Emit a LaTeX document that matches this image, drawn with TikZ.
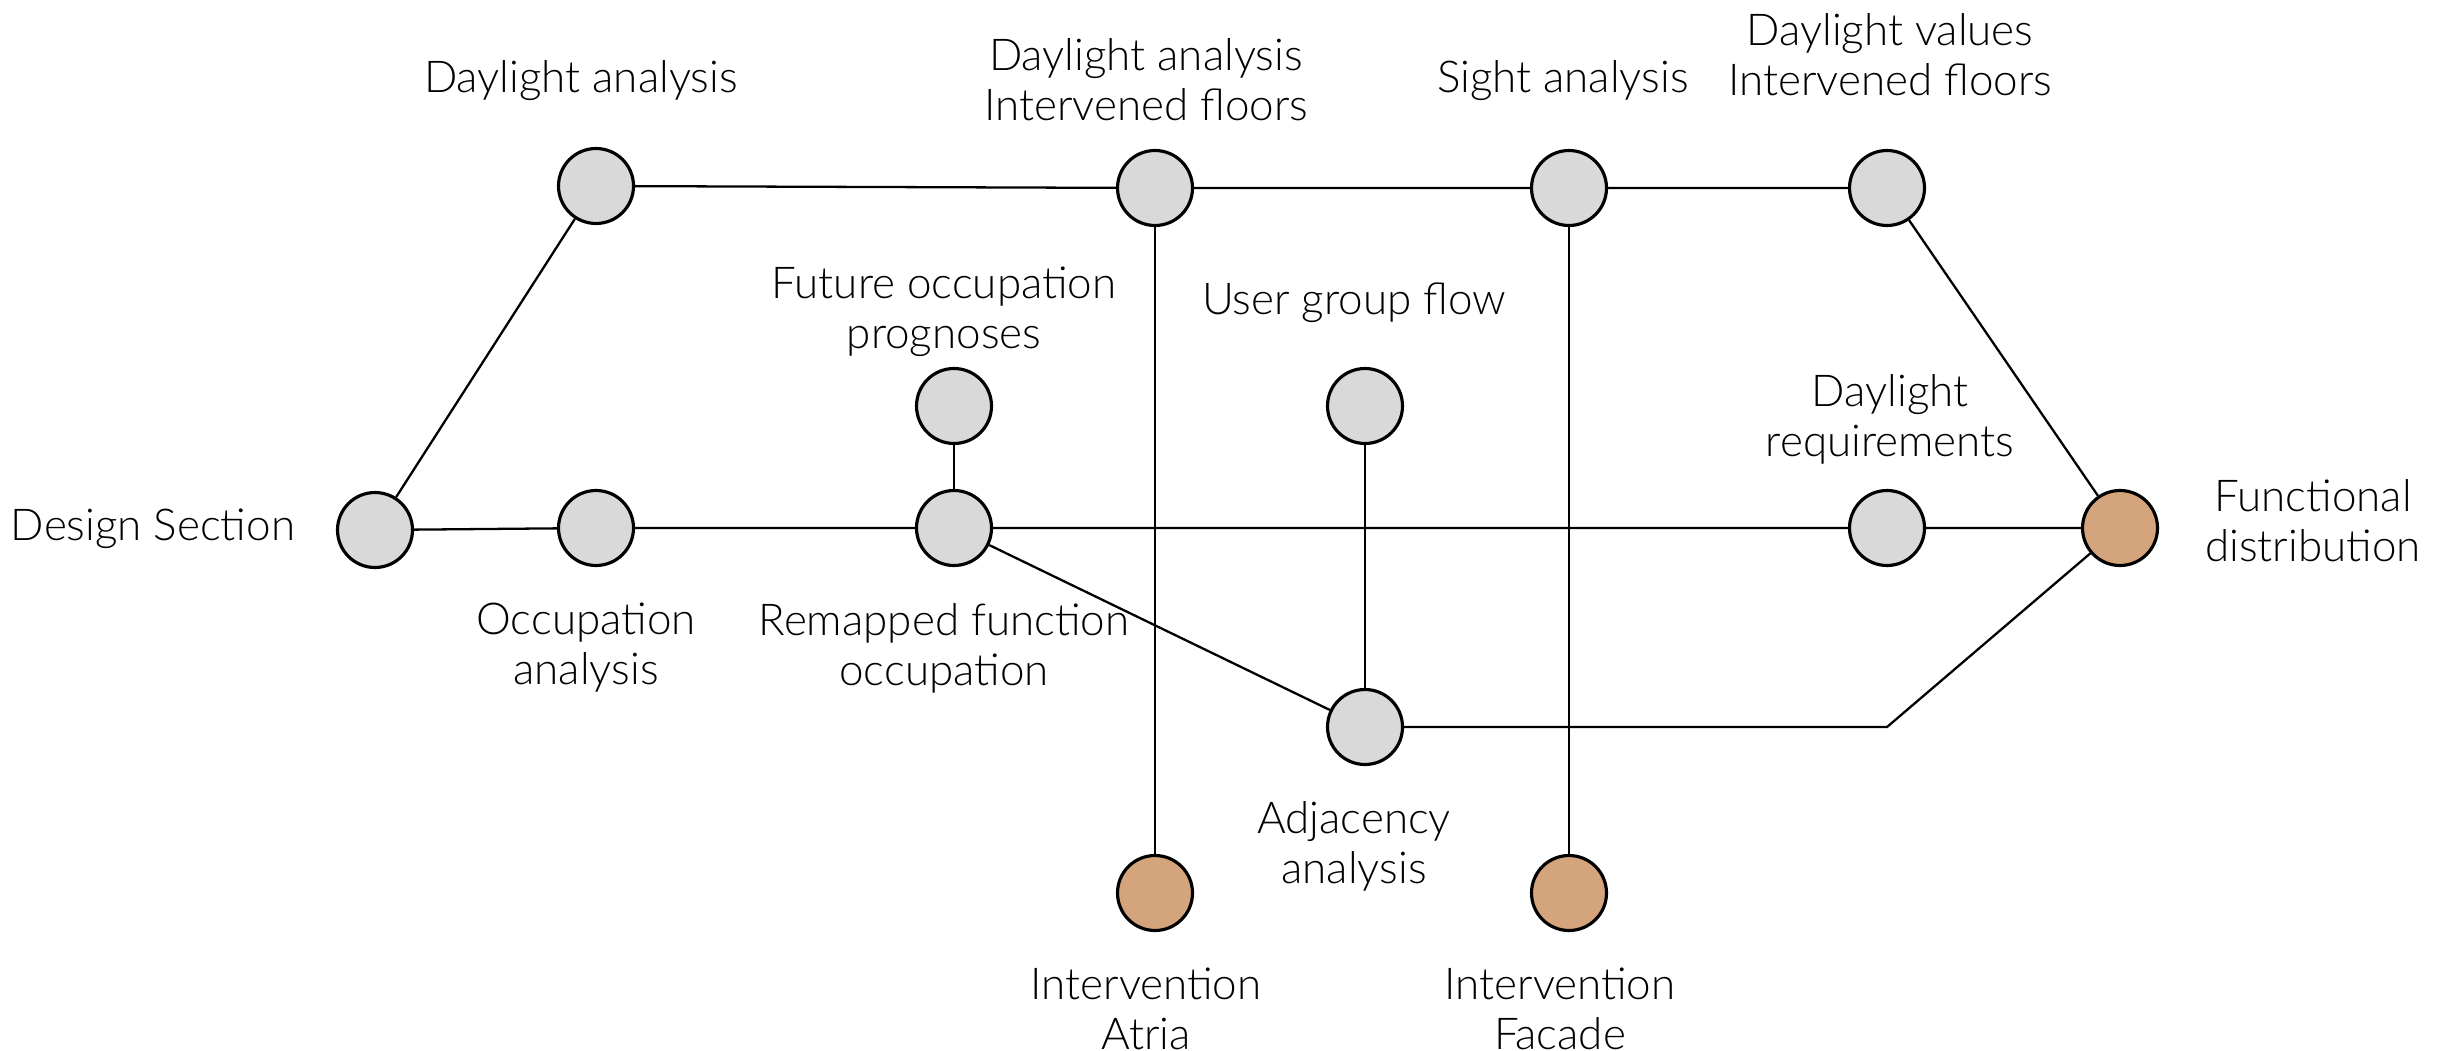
\documentclass[tikz,border=0pt]{standalone}
\usepackage{fontspec}
\setmainfont{Lato}[UprightFont = * Light]
\usepackage{tikz}
\usetikzlibrary{calc}
\usepackage{xcolor}
\definecolor{nodegray}{HTML}{D9D9D9}
\definecolor{nodebrown}{HTML}{D4A57D}

\begin{document}
\begin{tikzpicture}[
    punto/.style = {circle, draw = black, line width = 0.9pt, fill = nodegray, minimum size = 0.75cm, inner sep = 0pt},
    meta/.style = {punto, fill = nodebrown},
    testo/.style = {align = center, inner sep = 0pt, yshift = -0.04cm, font = \fontsize{12.5}{14.2}\selectfont},
    linea/.style = {line width = 0.65pt}
]
    % Riquadro
    \useasboundingbox (0,0) rectangle (24.51,10.50);
    % Nodi
    \node[punto] (ds) at (3.75,5.20) {};
    \node[punto] (occ) at (5.96,5.22) {};
    \node[punto] (da) at (5.96,8.64) {};
    \node[punto] (daif) at (11.55,8.62) {};
    \node[punto] (sight) at (15.69,8.62) {};
    \node[punto] (dv) at (18.87,8.62) {};
    \node[punto] (fut) at (9.54,6.44) {};
    \node[punto] (ugf) at (13.65,6.44) {};
    \node[punto] (rem) at (9.54,5.22) {};
    \node[punto] (dreq) at (18.87,5.22) {};
    \node[meta] (fd) at (21.20,5.22) {};
    \node[punto] (adj) at (13.65,3.23) {};
    \node[meta] (atria) at (11.55,1.57) {};
    \node[meta] (facade) at (15.69,1.57) {};
    \coordinate (gomito) at (18.87,3.23);
    % Etichette
    \node[testo] (t-da) at (5.81,9.73) {Daylight analysis};
    \node[testo] (t-daif) at (11.46,9.74) {Daylight analysis\\Intervened floors};
    \node[testo] (t-sight) at (15.63,9.73) {Sight analysis};
    \node[testo] (t-dv) at (18.90,9.99) {Daylight values\\Intervened floors};
    \node[testo] (t-fut) at (9.44,7.42) {Future occupation\\prognoses};
    \node[testo] (t-ugf) at (13.54,7.51) {User group flow};
    \node[testo] (t-dreq) at (18.90,6.35) {Daylight\\requirements};
    \node[testo] (t-ds) at (1.53,5.25) {Design Section};
    \node[testo] (t-occ) at (5.86,4.06) {Occupation\\analysis};
    \node[testo] (t-rem) at (9.44,4.06) {Remapped function\\occupation};
    \node[testo] (t-fd) at (23.13,5.33) {Functional\\distribution};
    \node[testo] (t-adj) at (13.54,2.08) {Adjacency\\analysis};
    \node[testo] (t-atria) at (11.46,0.45) {Intervention\\Atria};
    \node[testo] (t-facade) at (15.60,0.45) {Intervention\\Facade};
    % Collegamenti
    \draw[linea] (ds) -- (da);
    \draw[linea] (ds) -- (occ) -- (rem) -- (dreq) -- (fd);
    \draw[linea] (da) -- (daif) -- (sight) -- (dv);
    \draw[linea] (dv) -- (fd);
    \draw[linea] (fut) -- (rem);
    \draw[linea] (rem) -- (adj);
    \draw[linea] (ugf) -- (adj);
    \draw[linea] (adj) -- (gomito) -- (fd);
    \draw[linea] (daif) -- (atria);
    \draw[linea] (sight) -- (facade);
\end{tikzpicture}
\end{document}
